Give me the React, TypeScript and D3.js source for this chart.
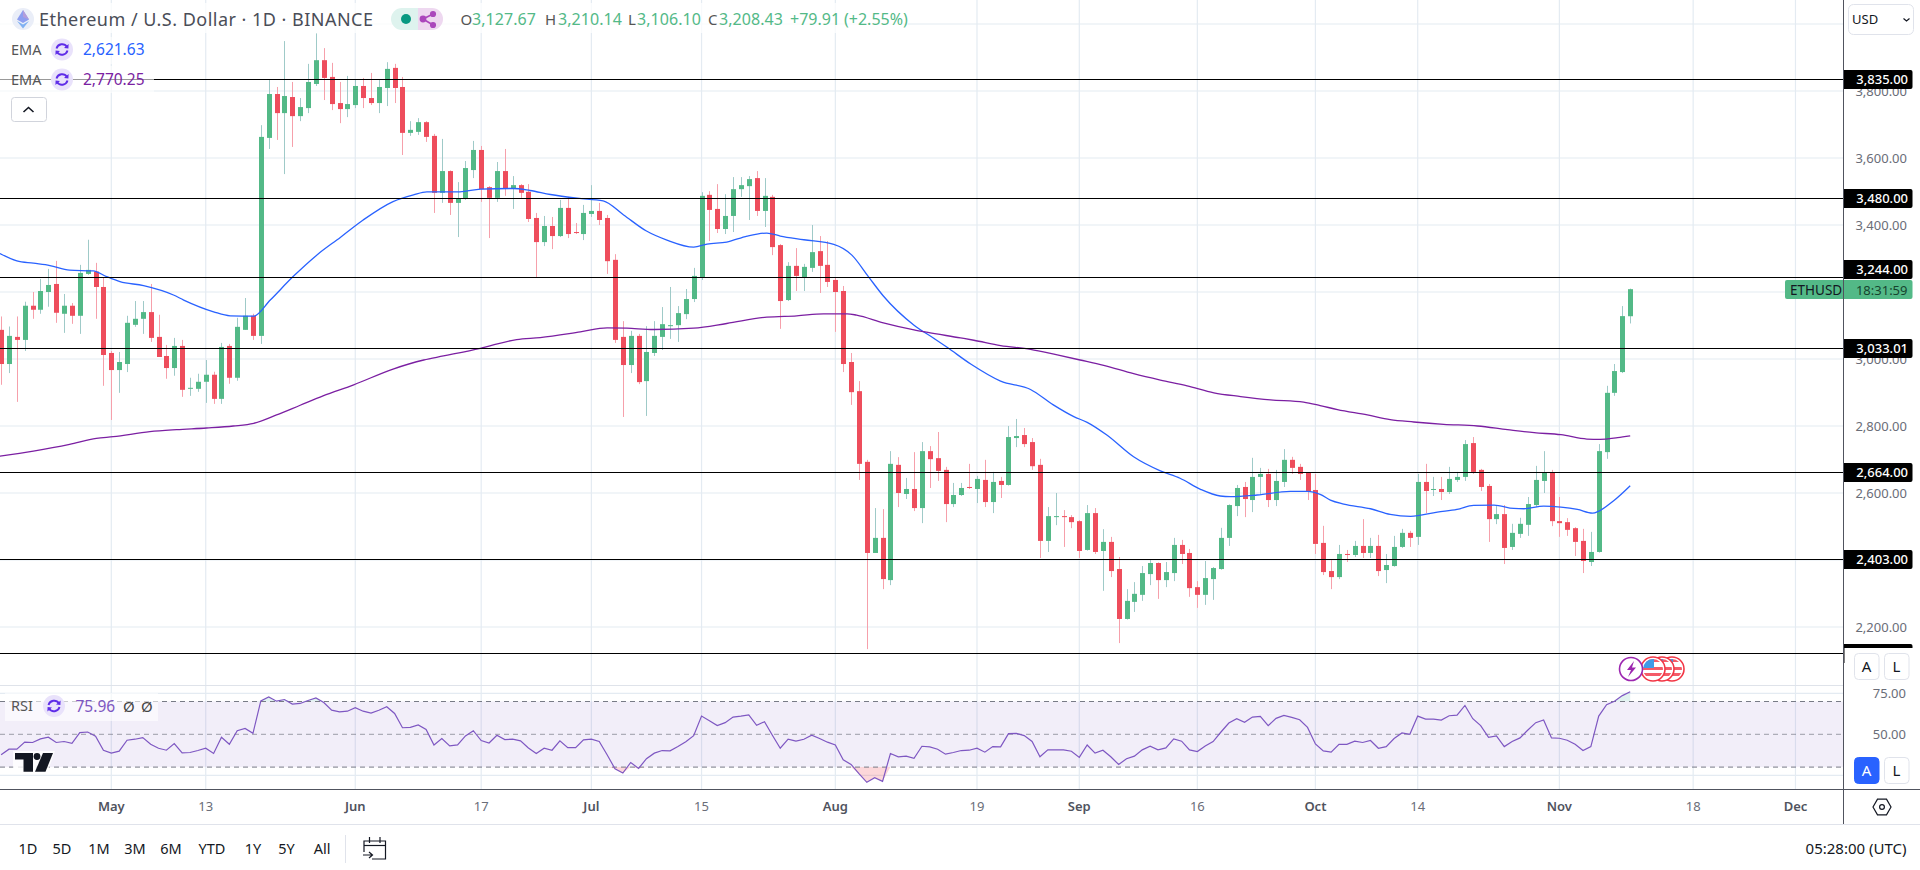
import React from "react";
import * as d3 from "d3";

// Trading days are counted from 1 May 2024; first visible candle is 17 April (day -14), last is 10 November (day 193).
const firstDay = -14;
const opens = [3087,2985,3066,3057,3159,3147,3200,3224,3135,3159,3129,3254,3261,3215,3018,2967,2985,3102,3120,3140,3066,3009,2973,3039,2912,2911,2932,2953,2881,3039,2944,3087,3129,
3069,3660,3791,3734,3782,3725,3749,3821,3892,3842,3764,3746,3758,3815,3779,3764,3809,3869,3812,3675,3678,3707,3666,3496,3561,3466,3478,3564,3624,3513,3481,3561,3510,3519,3499,3421,3349,3397,3367,3451,3379,3373,3433,3442,3421,3296,
3066,2982,3069,2934,3018,3066,3098,3101,3134,3179,3244,3490,3448,3388,3427,3507,3516,3540,3442,3484,3340,3176,3278,3244,3272,3322,3281,3236,3203,2991,2904,2693,2421,2466,2340,2684,2597,2612,2555,2725,2704,2669,2567,
2594,2618,2612,2639,2573,2636,2624,2764,2773,2752,2684,2457,2528,2531,2528,2516,2430,2540,2427,2454,2373,2224,2275,2296,2358,2391,2340,2361,2445,2421,2319,2296,2343,2373,2466,2561,2618,2579,2648,2657,2579,2633,2699,2678,2660,
2609,2451,2367,2349,2418,2415,2442,2421,2442,2370,2382,2439,2481,2469,2633,2609,2612,2603,2639,2648,2749,2669,2621,2522,2537,2439,2478,2505,2564,2636,2660,2516,2513,2495,2457,2394,2424,2722,2899,2961,3127.67];
const highs = [3127,3097,3127,3171,3200,3239,3269,3293,3194,3167,3281,3356,3287,3242,3024,3021,3129,3173,3173,3224,3132,3042,3063,3057,2944,2956,2997,2962,3048,3045,3123,3182,3135,
3698,3833,3812,3949,3827,3779,3881,3972,3928,3884,3827,3845,3833,3839,3854,3833,3886,3881,3842,3710,3719,3710,3672,3657,3563,3528,3591,3651,3636,3516,3588,3627,3546,3522,3522,3436,3427,3424,3475,3484,3406,3460,3519,3466,3430,3313,
3113,3084,3075,3098,3113,3155,3215,3158,3209,3272,3498,3501,3522,3492,3543,3543,3546,3561,3540,3490,3343,3289,3331,3284,3400,3367,3352,3242,3218,3018,2934,2699,2555,2552,2725,2707,2645,2722,2752,2740,2782,2678,2630,
2630,2687,2651,2699,2663,2648,2800,2821,2794,2764,2702,2558,2600,2549,2534,2519,2564,2555,2492,2469,2409,2313,2334,2382,2400,2393,2394,2466,2460,2433,2337,2397,2379,2496,2566,2624,2633,2705,2675,2672,2669,2731,2708,2687,2661,
2657,2502,2403,2445,2430,2457,2522,2466,2475,2418,2472,2493,2487,2657,2687,2648,2648,2678,2663,2758,2767,2672,2627,2561,2564,2508,2526,2588,2681,2725,2669,2588,2525,2498,2493,2484,2746,2920,2985,3158,3210.14];
const lows = [2923,2958,2872,3024,3120,3135,3156,3108,3078,3105,3075,3251,3120,2920,2818,2899,2961,3096,3075,3051,3006,2941,2950,2887,2890,2902,2869,2866,2866,2926,2935,3087,3057,
3045,3627,3654,3552,3633,3710,3734,3815,3773,3743,3704,3722,3749,3749,3758,3734,3755,3764,3609,3666,3669,3648,3436,3466,3430,3364,3475,3540,3469,3361,3469,3487,3448,3481,3409,3245,3337,3328,3364,3361,3373,3355,3424,3400,3254,3048,
2827,2958,2925,2830,3009,3027,3060,3051,3119,3170,3236,3352,3376,3373,3379,3484,3415,3427,3394,3310,3090,3173,3203,3203,3260,3197,3215,3081,2961,2863,2639,2134,2421,2313,2325,2558,2582,2546,2510,2615,2636,2513,2558,
2591,2612,2570,2558,2540,2585,2622,2737,2737,2669,2406,2424,2504,2439,2495,2406,2428,2418,2308,2349,2152,2222,2245,2278,2325,2284,2319,2337,2388,2290,2257,2266,2281,2371,2442,2531,2528,2543,2594,2558,2561,2618,2657,2639,2579,
2418,2355,2313,2343,2394,2409,2406,2406,2352,2331,2380,2436,2439,2445,2540,2591,2579,2597,2633,2636,2657,2606,2454,2507,2388,2430,2466,2472,2558,2600,2501,2469,2472,2412,2361,2382,2422,2702,2890,2958,3106.10];
const closes = [2985,3069,3057,3159,3147,3203,3221,3138,3159,3129,3257,3266,3215,3012,2967,2991,3108,3120,3140,3063,3006,2973,3039,2908,2914,2932,2953,2881,3036,2944,3096,3129,3069,
3663,3791,3734,3785,3725,3752,3827,3892,3839,3761,3746,3761,3815,3779,3764,3812,3866,3809,3675,3684,3707,3663,3496,3561,3466,3478,3570,3624,3507,3481,3561,3510,3519,3496,3418,3349,3397,3367,3451,3373,3376,3436,3442,3415,3292,3057,
2982,3069,2931,3021,3069,3104,3101,3137,3179,3248,3487,3445,3388,3427,3507,3519,3537,3442,3487,3334,3173,3278,3248,3275,3319,3278,3230,3200,2985,2901,2687,2421,2466,2343,2687,2600,2612,2555,2725,2701,2666,2567,2594,
2615,2615,2642,2573,2633,2624,2767,2770,2746,2680,2457,2531,2531,2528,2513,2427,2540,2424,2454,2367,2224,2278,2299,2361,2391,2340,2364,2445,2418,2316,2296,2346,2376,2466,2564,2615,2582,2648,2657,2579,2636,2699,2675,2657,2603,
2448,2364,2349,2418,2415,2442,2421,2442,2367,2385,2439,2481,2466,2633,2606,2612,2603,2642,2648,2746,2663,2618,2522,2537,2436,2481,2508,2567,2639,2660,2516,2510,2490,2454,2397,2424,2725,2899,2964,3128,3208.43];

// EMA readings: a day position and the price read at that position
const emaFastDays = [-14.15,-12,-9.9,-7.8,-5.3,-2.3,-0.6,1.1,4.1,7.9,9.2,13,15.1,18.1,20.2,23.1,26.1,29.1,32,35.8,38.4,40.1,44.3,46.9,51.1,53.2,55.8,59.2,62.5,65.1,68,70.6,74,75.7,78.2,80.8,83.3,85,88,91.8,94.1,96.2,98.1,102,104.5,106.2,109.2,113,116.8,119.7,122.3,124,126.5,129.9,133.3,135.8,138.4,140.9,142.2,145.6,149.8,152,153.6,154.9,156.6,160,162.5,165.1,168.5,171,173.1,175.7,178.2,179.5,182,184.2,186.3,188.2,190.9,193];
const emaFastValues = [3315,3293,3286,3279,3265,3263,3246,3231,3219,3191,3176,3141,3129,3128,3176,3246,3310,3363,3415,3470,3490,3499,3499,3507,3509,3503,3491,3480,3472,3430,3382,3355,3334,3343,3349,3367,3376,3367,3356,3342,3310,3246,3188,3101,3062,3035,2985,2934,2909,2863,2828,2811,2773,2708,2666,2644,2611,2591,2589,2594,2605,2605,2596,2579,2567,2553,2536,2530,2543,2551,2563,2564,2554,2553,2561,2558,2551,2540,2577,2621.63];
const emaSlowDays = [-14.15,-9.9,-5.3,-1.9,0.25,4.9,8.3,12.1,15.5,18.1,21,24,26.9,30.8,35.8,39.7,42.2,46.9,51.5,54.5,59.6,63,65.5,68.9,74,78.2,83.3,87.1,90.5,93.5,94.7,98.1,102,103.6,107.9,109.6,113,116.8,120.2,123.1,126.1,129.9,133.3,136.7,140.1,143.5,147.3,151.5,153.6,155.8,159.6,162.5,165.5,169.3,173.6,177.4,180.8,184.2,187.5,189.2,191.4,193];
const emaSlowValues = [2710,2725,2745,2763,2768,2783,2789,2794,2800,2808,2833,2862,2890,2923,2970,2997,3009,3032,3058,3064,3081,3093,3092,3088,3092,3106,3125,3129,3135,3135,3131,3108,3087,3080,3063,3056,3040,3029,3012,2997,2981,2956,2937,2920,2899,2888,2878,2871,2861,2849,2833,2819,2812,2805,2800,2789,2780,2774,2761,2760,2765,2770.25];

const rsiValues = [37.5,40.9,40.9,45.2,45,47.2,48.2,45,45.6,44.5,51,51.4,48.8,40.3,38.5,39.7,46.4,47,48,43.9,41.5,40.3,44.3,38.7,38.9,40.1,41.5,38.3,48.2,43.9,52.2,53.6,50.6,
70.4,72.8,70.2,71.2,68.4,68.8,70.6,72.2,69.4,64.7,63.7,64.1,66.2,64.1,62.9,64.7,66.8,62.7,54,54.2,55.7,53,43.5,47.4,42.9,43.5,49,52.2,46.2,44.7,49.4,46.8,47,46,41.7,38.3,41.5,40.3,46,41.9,41.9,46.6,47,45.6,37.5,29,
26.4,32.8,29.2,35.1,38.5,40.1,39.9,42.5,45.4,49.2,61.1,58.3,55.3,57.1,60.5,61.1,61.9,55.5,57.7,49.4,41.5,47,45.8,47,49.4,47.4,45.2,43.5,34.4,31.6,26,20.7,23.5,21.3,38.3,36.3,36.7,35.3,42.7,42.3,40.9,37.9,38.9,
40.1,40.3,41.5,39.1,42.5,42.3,50.4,50.6,49.2,45.6,36.3,40.5,40.5,40.5,39.7,35.9,43.5,38.5,40.3,36.3,31.6,35.1,36.7,40.5,42.7,40.5,41.7,47.2,45.8,40.5,39.5,42.9,45.6,51.4,56.9,59.5,57.3,60.5,60.9,55.3,59.7,61.5,60.3,58.9,54.2,
44.1,39.9,39.1,43.9,43.9,45.8,45,46.2,41.5,42.5,47.4,50.8,50,61.1,59.3,59.3,58.7,61.3,61.7,67.6,59.5,55.3,48.2,49,42.5,45.6,47.8,52.6,57.1,58.7,47.8,47.6,46.4,43.9,40.1,42.5,61.1,68,70.2,73.6,75.96];

const priceTicks = [4000,3800,3600,3400,3200,3000,2800,2600,2400,2200];
const priceTickLabels = ["","3,800.00","3,600.00","3,400.00","","3,000.00","2,800.00","2,600.00","","2,200.00"];
const levels = [3835,3480,3244,3033.01,2664,2403,2121];
const levelLabels = ["3,835.00","3,480.00","3,244.00","3,033.01","2,664.00","2,403.00","2,121.00"];
const levelTagShift = [0,0,-8,0,0,0,0];
const timeTickDays = [0,12,31,47,61,75,92,110,123,138,153,166,184,201,214];
const timeTickLabels = ["May","13","Jun","17","Jul","15","Aug","19","Sep","16","Oct","14","Nov","18","Dec"];
const monthLabels = ["May","Jun","Jul","Aug","Sep","Oct","Nov","Dec"];
const rangeLabels = ["1D","5D","1M","3M","6M","YTD","1Y","5Y","All"];
const rangeX = [28,62,99,135,171,212,253,286.5,322];
const ohlcLabels = ["O","H","L","C"];
const ohlcValues = ["3,127.67","3,210.14","3,106.10","3,208.43"];

const FONT = "'Noto Sans', 'DejaVu Sans', sans-serif";
const UP = "#53b987";
const DOWN = "#ee4d5c";
const UPWICK = "#9fcac8";
const DOWNWICK = "#f6a0ab";
const GRID = "#e4ebf2";
const AXISX = 1843.5;
const TIMELINE = 789.5;

const xDay = d3.scaleLinear().domain([0, 193]).range([111.3, 1630.2]);
const yPrice = d3.scaleLinear().domain([2200, 4000]).range([627, 24]);
const yRsi = d3.scaleLinear().domain([25, 75]).range([775.3, 693.3]);

const fastLine = d3.line<number>().x((_, i) => xDay(emaFastDays[i])).y(v => yPrice(v)).curve(d3.curveMonotoneX);
const slowLine = d3.line<number>().x((_, i) => xDay(emaSlowDays[i])).y(v => yPrice(v)).curve(d3.curveMonotoneX);
const rsiLine = d3.line<number>().x((_, i) => xDay(firstDay + i)).y(v => yRsi(v));
const rsiLow = d3.area<number>().x((_, i) => xDay(firstDay + i)).y0(yRsi(30)).y1(v => yRsi(Math.min(v, 30)));
const rsiHigh = d3.area<number>().x((_, i) => xDay(firstDay + i)).y0(yRsi(70)).y1(v => yRsi(Math.max(v, 70)));

function SyncIcon({ x, y, color }: { x: number; y: number; color: string }) {
  return (
    <g transform={`translate(${x},${y})`}>
      <circle r={11} fill="#e9e2fb" />
      <path d="M-5.5,-1 A5.8,5.8 0 0 1 5,-2.6 M5.5,1 A5.8,5.8 0 0 1 -5,2.6" fill="none" stroke={color} strokeWidth={1.9} />
      <path d="M6.6,-5.5 L6.4,-1 L2,-1.6 Z M-6.6,5.5 L-6.4,1 L-2,1.6 Z" fill={color} />
    </g>
  );
}

function FlagCoin({ x, y }: { x: number; y: number }) {
  return (
    <g transform={`translate(${x},${y})`}>
      <circle r={12} fill="#fff" stroke="#f23645" strokeWidth={1.6} />
      <clipPath id={`flag${x}`}><circle r={10} /></clipPath>
      <g clipPath={`url(#flag${x})`}>
        <rect x={-10} y={-10} width={20} height={20} fill="#fff" />
        <rect x={-10} y={-2} width={20} height={3} fill="#f45b68" />
        <rect x={-10} y={4} width={20} height={3} fill="#f45b68" />
        <rect x={-10} y={-10} width={20} height={3} fill="#f45b68" />
        <rect x={-10} y={-10} width={11} height={9} fill="#3f9be8" />
      </g>
    </g>
  );
}

export default function App() {
  const t = { fontFamily: FONT } as React.CSSProperties;
  const levelY = levels.map(v => Math.round(yPrice(v)) + 0.5);
  return (
    <svg width={1920} height={870} viewBox="0 0 1920 870" style={{ position: "fixed", left: 0, top: 0, display: "block", background: "#fff", ...t }}>
      {/* grid */}
      <g stroke={GRID} strokeWidth={1.2}>
        {priceTicks.map(v => <line key={v} x1={0} x2={AXISX} y1={yPrice(v)} y2={yPrice(v)} />)}
        {timeTickDays.map(d => <line key={d} x1={xDay(d)} x2={xDay(d)} y1={0} y2={TIMELINE} />)}
        <line x1={0} x2={AXISX} y1={yRsi(75)} y2={yRsi(75)} />
        <line x1={0} x2={AXISX} y1={yRsi(25)} y2={yRsi(25)} />
      </g>
      <line x1={0} x2={AXISX} y1={685.5} y2={685.5} stroke="#dfe3ea" strokeWidth={1.2} />

      {/* candles */}
      {opens.map((o, i) => {
        const c = closes[i];
        const up = c >= o;
        const cx = Math.round(xDay(firstDay + i));
        const top = yPrice(Math.max(o, c));
        const bot = yPrice(Math.min(o, c));
        return (
          <g key={i}>
            <line x1={cx + 0.5} x2={cx + 0.5} y1={yPrice(highs[i])} y2={yPrice(lows[i])} stroke={up ? UPWICK : DOWNWICK} strokeWidth={1} />
            <rect x={cx - 2} y={top} width={5} height={Math.max(bot - top, 1)} fill={up ? UP : DOWN} />
          </g>
        );
      })}

      {/* EMAs */}
      <path d={fastLine(emaFastValues) || ""} fill="none" stroke="#2962ff" strokeWidth={1.3} />
      <path d={slowLine(emaSlowValues) || ""} fill="none" stroke="#7b1fa2" strokeWidth={1.3} />

      {/* horizontal levels */}
      {levelY.map((y, i) => <line key={i} x1={0} x2={AXISX} y1={y} y2={y} stroke="#000" strokeWidth={1} />)}

      {/* header */}
      <rect x={0} y={3} width={908} height={30} fill="#fff" opacity={0.75} />
      <circle cx={23} cy={19} r={11} fill="#eaeef8" />
      <polygon points="23,10 29,19.5 23,23 17,19.5" fill="#8d9ef0" />
      <polygon points="23,10 29,19.5 23,17" fill="#b39ddb" />
      <polygon points="23,24.5 29,21 23,28.5 17,21" fill="#7fb0f2" />
      <text x={39} y={26} fontSize={18} fill="#4a4d57" textLength={334} lengthAdjust="spacing">Ethereum / U.S. Dollar · 1D · BINANCE</text>
      <path d="M402,8 H418 V30 H402 A11,11 0 0 1 402,8 Z" fill="#def3ee" />
      <path d="M418,8 H432 A11,11 0 0 1 432,30 H418 Z" fill="#eed8f0" />
      <circle cx={406} cy={19} r={5} fill="#089981" />
      <g stroke="#ab47bc" strokeWidth={1.6} fill="#ab47bc">
        <line x1={423} y1={19} x2={433} y2={14} /><line x1={423} y1={19} x2={433} y2={25} />
        <circle cx={423} cy={19} r={2.6} /><circle cx={433} cy={14} r={2.3} /><circle cx={433} cy={25} r={2.3} />
      </g>
      {ohlcLabels.map((l, i) => {
        const lx = [460.5, 545, 628, 708][i];
        const vx = [472, 558, 637, 719][i];
        return (
          <g key={l} fontSize={16}>
            <text x={lx} y={25} fill="#555" fontSize={15}>{l}</text>
            <text x={vx} y={25} fill={UP} textLength={64} lengthAdjust="spacing">{ohlcValues[i]}</text>
          </g>
        );
      })}
      <text x={790} y={25} fontSize={16} fill={UP}>+79.91</text>
      <text x={844} y={25} fontSize={16} fill={UP}>(+2.55%)</text>

      {/* EMA legend */}
      <rect x={0} y={37} width={154} height={27} fill="#fff" opacity={0.6} />
      <rect x={0} y={66} width={154} height={27} fill="#fff" opacity={0.6} />
      <text x={11} y={55} fontSize={14.5} fill="#555">EMA</text>
      <SyncIcon x={62} y={49.5} color="#5f2de8" />
      <text x={83} y={55} fontSize={15.5} fill="#2962ff">2,621.63</text>
      <text x={11} y={85} fontSize={14.5} fill="#555">EMA</text>
      <SyncIcon x={62} y={79.5} color="#5f2de8" />
      <text x={83} y={85} fontSize={15.5} fill="#7b1fa2">2,770.25</text>
      <rect x={11.5} y={97.5} width={35} height={24} rx={3} fill="#fff" stroke="#d1d4dc" />
      <path d="M23.5,112 L28.5,107.5 L33.5,112" fill="none" stroke="#131722" strokeWidth={1.6} />

      {/* RSI */}
      <rect x={0} y={yRsi(70)} width={AXISX} height={yRsi(30) - yRsi(70)} fill="#7e57c2" opacity={0.1} />
      <path d={rsiLow(rsiValues) || ""} fill="#f23645" opacity={0.2} />
      <path d={rsiHigh(rsiValues) || ""} fill="#089981" opacity={0.12} />
      <g stroke="#787b86" strokeWidth={1} strokeDasharray="5 4">
        <line x1={0} x2={AXISX} y1={yRsi(70)} y2={yRsi(70)} />
        <line x1={0} x2={AXISX} y1={yRsi(50)} y2={yRsi(50)} opacity={0.7} />
        <line x1={0} x2={AXISX} y1={yRsi(30)} y2={yRsi(30)} />
      </g>
      <path d={rsiLine(rsiValues) || ""} fill="none" stroke="#7e57c2" strokeWidth={1.2} />
      <rect x={5} y={693} width={153} height={28} fill="#fff" opacity={0.6} />
      <text x={11} y={711} fontSize={14.5} fill="#555">RSI</text>
      <SyncIcon x={54} y={706} color="#5f2de8" />
      <text x={75.5} y={711.5} fontSize={15.5} fill="#7e57c2">75.96</text>
      <text x={123} y={711.5} fontSize={15} fill="#444">Ø</text>
      <text x={141} y={711.5} fontSize={15} fill="#444">Ø</text>

      {/* TradingView logo */}
      <g>
        <path d="M13,751 H55 L47,773.5 H13 Z" fill="#fff" opacity={0.8} />
        <path d="M15,753 H33 V771.7 H23.5 V759.5 H15 Z" fill="#131722" />
        <circle cx={37} cy={756.5} r={3.4} fill="#131722" />
        <path d="M43,753 H53 L45.5,771.7 H35 Z" fill="#131722" />
      </g>

      {/* event markers */}
      <FlagCoin x={1672} y={669} />
      <FlagCoin x={1662} y={669} />
      <FlagCoin x={1653} y={669} />
      <circle cx={1631} cy={669} r={11.5} fill="#fff" stroke="#9c27b0" strokeWidth={1.6} />
      <path d="M1634,661 L1627,670 L1631,670 L1628,677 L1636,667.5 L1632,667.5 Z" fill="#9c27b0" />

      {/* right price axis */}
      <rect x={AXISX} y={0} width={77} height={790} fill="#fff" />
      {priceTicks.map((v, i) => priceTickLabels[i] ? (
        <text key={v} x={1907} y={yPrice(v) + 4.5} fontSize={13} fill="#6a6d78" textAnchor="end">{priceTickLabels[i]}</text>
      ) : null)}
      {levelLabels.map((l, i) => {
        const y = levelY[i] + levelTagShift[i];
        return (
          <g key={l}>
            <path d={`M1844,${y - 9.5} H1910.5 a2,2 0 0 1 2,2 V${y + 7.5} a2,2 0 0 1 -2,2 H1844 Z`} fill="#000" />
            <text x={1908} y={y + 4.5} fontSize={13} fill="#fff" textAnchor="end" fontWeight={500}>{l}</text>
          </g>
        );
      })}
      <path d="M1787,280 H1910.5 a2,2 0 0 1 2,2 V297 a2,2 0 0 1 -2,2 H1787 a2,2 0 0 1 -2,-2 V282 a2,2 0 0 1 2,-2 Z" fill={UP} />
      <text x={1790} y={294.5} fontSize={13.5} fill="#131722">ETHUSD</text>
      <text x={1907.5} y={294.5} fontSize={13} fill="#16442e" textAnchor="end">18:31:59</text>
      <rect x={1844.5} y={648} width={75} height={37} fill="#fff" />
      <text x={1906} y={yRsi(75) + 4.5} fontSize={13} fill="#6a6d78" textAnchor="end">75.00</text>
      <text x={1906} y={yRsi(50) + 4.5} fontSize={13} fill="#6a6d78" textAnchor="end">50.00</text>

      {/* USD selector */}
      <rect x={1848.5} y={4.5} width={65} height={30} rx={5} fill="#fff" stroke="#e0e3eb" />
      <text x={1852} y={24} fontSize={13} fill="#131722">USD</text>
      <path d="M1903.5,18.5 L1906.5,21 L1909.5,18.5" fill="none" stroke="#131722" strokeWidth={1.2} />

      {/* scale buttons */}
      {[[1854, 653, false, "A"], [1884, 653, false, "L"], [1854, 757, true, "A"], [1884, 757, false, "L"]].map(([x, y, on, s], i) => (
        <g key={i}>
          <rect x={(x as number) + 0.5} y={(y as number) + 0.5} width={24.5} height={26} rx={4} fill={on ? "#2962ff" : "#fff"} stroke={on ? "#2962ff" : "#e0e3eb"} />
          <text x={(x as number) + 12.5} y={(y as number) + 19} textAnchor="middle" fontSize={15} fill={on ? "#fff" : "#131722"}>{s as string}</text>
        </g>
      ))}

      {/* frame lines */}
      <line x1={0} x2={1920} y1={TIMELINE} y2={TIMELINE} stroke="#50535e" strokeWidth={1} />
      <line x1={AXISX} x2={AXISX} y1={0} y2={824} stroke="#50535e" strokeWidth={1} />
      <line x1={0} x2={1920} y1={824.5} y2={824.5} stroke="#e0e3eb" strokeWidth={1} />

      {/* time axis */}
      {timeTickDays.map((d, i) => {
        const month = monthLabels.includes(timeTickLabels[i]);
        return (
          <text key={d} x={xDay(d)} y={811} fontSize={13} textAnchor="middle" fontWeight={month ? 600 : 400} fill={month ? "#50535e" : "#6a6d78"}>{timeTickLabels[i]}</text>
        );
      })}
      <g transform="translate(1882,807)" fill="none" stroke="#131722" strokeWidth={1.2}>
        <path d="M-9,0 L-4.5,-7.8 H4.5 L9,0 L4.5,7.8 H-4.5 Z" />
        <circle r={2.4} />
      </g>

      {/* bottom toolbar */}
      {rangeLabels.map((l, i) => (
        <text key={l} x={rangeX[i]} y={853.5} fontSize={14.5} textAnchor="middle" fill="#131722">{l}</text>
      ))}
      <line x1={345.5} x2={345.5} y1={835} y2={863} stroke="#e0e3eb" />
      <g fill="none" stroke="#131722" strokeWidth={1.2}>
        <path d="M364,852 V841 H385.5 V859 H372" />
        <line x1={364} x2={385.5} y1={845.5} y2={845.5} />
        <line x1={369.5} x2={369.5} y1={837} y2={843} />
        <line x1={380} x2={380} y1={837} y2={843} />
        <path d="M363,855 H372 M369,852 L372.5,855 L369,858" />
      </g>
      <text x={1906.5} y={854} fontSize={15} textAnchor="end" fill="#131722">05:28:00 (UTC)</text>
    </svg>
  );
}
